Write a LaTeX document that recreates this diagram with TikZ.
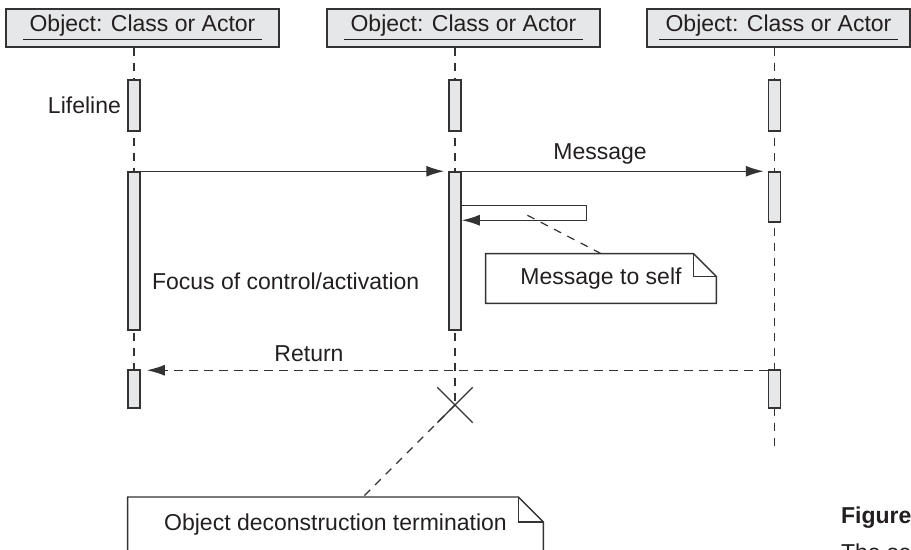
\documentclass[tikz,border=0pt]{standalone}
\usepackage{fontspec}
\setmainfont{Liberation Sans}
\usepackage{tikz}
\usetikzlibrary{calc,arrows.meta}
\usetikzlibrary{shapes.misc}
\usetikzlibrary{positioning}
\definecolor{sd-ink}{HTML}{231F20}
\definecolor{sd-line}{HTML}{333333}
\definecolor{sd-fill}{HTML}{E6E7E8}

\begin{document}
\begin{tikzpicture}[
    x=0.5pt, y=-0.5pt,
    >={Latex[length=9pt,width=5.5pt]},
    font=\fontsize{11.5}{14}\selectfont, text=sd-ink,
    obj/.style={draw=sd-line, fill=sd-fill, line width=0.75pt, minimum width=136.5pt, minimum height=19pt, inner sep=0pt},
    bar/.style={draw=sd-line, fill=sd-fill, line width=0.75pt, minimum width=6pt, inner sep=0pt},
    life/.style={draw=sd-line, line width=0.6pt, dash pattern=on 4pt off 3.5pt},
    msg/.style={->, draw=sd-line, line width=0.7pt},
    ret/.style={->, draw=sd-line, line width=0.7pt, dash pattern=on 4.5pt off 3pt},
    leader/.style={draw=sd-line, line width=0.6pt, dash pattern=on 4pt off 3.5pt},
    note/.style={inner sep=0pt},
    notebd/.style={draw=sd-line, line width=0.7pt}
]
\useasboundingbox (0,0) rectangle (911,550);
\clip (0,0) rectangle (911,550);

% =========================================================================
% OBJECTS AND LIFELINES
% =========================================================================
\node[obj] (objA) at (142.5,28) {\underline{\ Object: Class or Actor\ }};
\node[obj] (objB) at (463.5,28) {\underline{\ Object: Class or Actor\ }};
\node[obj, minimum width=131.5pt] (objC) at (778.5,28) {\underline{\ Object: Class or Actor\ }};

\coordinate (endA) at (134,408);
\coordinate (endC) at (774.5,447);
\node[cross out, draw=sd-line, line width=0.7pt, minimum size=17pt, inner sep=0pt] (kill) at (455,405) {};

\draw[life] (objA.south -| endA) -- (endA);
\draw[life] (objB.south -| kill) -- (kill.center);
\draw[life] (objC.south -| endC) -- (endC);

% =========================================================================
% ACTIVATION BARS
% =========================================================================
\node[bar, minimum height=25.5pt] (lA1) at (134,105.5) {};
\node[bar, minimum height=79pt] (lA2) at (134,251) {};
\node[bar, minimum height=19pt] (lA3) at (134,389) {};

\node[bar, minimum height=25.5pt] (lB1) at (455,105.5) {};
\node[bar, minimum height=79pt] (lB2) at (455,251) {};

\node[bar, minimum height=25.5pt] (lC1) at (774.5,105.5) {};
\node[bar, minimum height=25pt] (lC2) at (774.5,197) {};
\node[bar, minimum height=19pt] (lC3) at (774.5,389) {};

\node[anchor=east, inner sep=3pt] (lifelbl) at (lA1.west) {Lifeline};
\node[anchor=west] (focus) at (145,281) {Focus of control/activation};

% =========================================================================
% MESSAGES
% =========================================================================
\draw[msg, shorten >=2pt] (lA2.north east) -- (lB2.north west);
\draw[msg, shorten >=2pt] (lB2.north east) -- (lC2.north west);
\node (msglbl) at (600,154) {Message};

% message to self
\draw[msg] ([yshift=-17pt]lB2.north east) -| ++(62.5pt,-7.5pt) -- ([yshift=-24.5pt]lB2.north east);

\draw[ret, shorten >=3pt] ([yshift=-0.5pt]lC3.north west) -- ([yshift=-0.5pt]lA3.north east);
\node (retlbl) at (309,354) {Return};

% =========================================================================
% NOTES
% =========================================================================
\node[note, minimum width=115pt, minimum height=24.5pt] (selfnote) at (601,278.5) {Message to self};
\draw[notebd] (selfnote.north west) -- ([xshift=-11.5pt]selfnote.north east) -- ([yshift=-11.5pt]selfnote.north east) -- (selfnote.south east) -- (selfnote.south west) -- cycle;
\draw[notebd] ([xshift=-11.5pt]selfnote.north east) |- ([yshift=-11.5pt]selfnote.north east);
\coordinate (selfpt) at (523,213);
\draw[leader] (selfnote.north) -- (selfpt);

\node[note, anchor=north, minimum width=207.5pt, minimum height=27pt] (termnote) at (335.5,497) {Object deconstruction termination};
\draw[notebd] (termnote.north west) -- ([xshift=-12.5pt]termnote.north east) -- ([yshift=-12.5pt]termnote.north east) -- ([yshift=-10pt]termnote.south east) -- ([yshift=-10pt]termnote.south west) -- cycle;
\draw[notebd] ([xshift=-12.5pt]termnote.north east) |- ([yshift=-12.5pt]termnote.north east);
\draw[leader] (kill.center) -- ([xshift=13.75pt]termnote.north);

% caption (cut off at the edge)
\node[anchor=base west, font=\fontsize{11.5}{14}\selectfont\bfseries] (figcap) at (834,524) {Figure};
\node[anchor=base west] (figtext) at (834,560) {The sec};

\end{tikzpicture}
\end{document}
